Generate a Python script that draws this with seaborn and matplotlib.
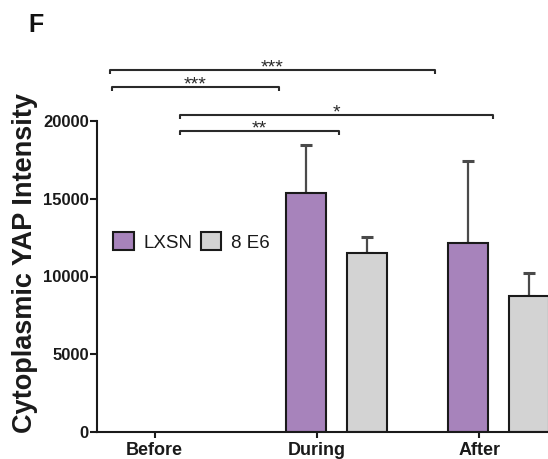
import numpy as np
import pandas as pd
import matplotlib
matplotlib.use("Agg")
import matplotlib.pyplot as plt
import seaborn as sns

# Mean cytoplasmic YAP intensity and upper SEM per phase and cell line
phases = ["Before", "During", "After"]
groups = ["LXSN", "8 E6"]
lxsn_mean = [np.nan, 15400, 12150]
lxsn_err = [np.nan, 3050, 5300]
e6_mean = [np.nan, 11500, 8750]
e6_err = [np.nan, 1050, 1480]
yticks = [0, 5000, 10000, 15000, 20000]

# Significance brackets: (x start, x end, height, label) in data units
brackets = [
    (-0.394, 1.606, 23280, "***"),
    (-0.382, 0.646, 22190, "***"),
    (0.037, 1.963, 20390, "*"),
    (0.037, 1.015, 19360, "**"),
]

purple = "#AA7AC4"
grey = "#D3D3D3"

sns.set_theme(style="white")
plt.rcParams["font.family"] = ["Liberation Sans", "DejaVu Sans"]

df = pd.DataFrame({
    "phase": phases * 2,
    "group": [groups[0]] * 3 + [groups[1]] * 3,
    "value": lxsn_mean + e6_mean,
    "err": lxsn_err + e6_err,
})

fig = plt.figure(figsize=(5.48, 4.59), dpi=100)
ax = fig.add_axes([97 / 548, 27 / 459, 451 / 548, 311 / 459])

sns.barplot(
    data=df, x="phase", y="value", hue="group",
    order=phases, hue_order=groups,
    palette=[purple, grey], width=0.75, gap=0.344,
    edgecolor="#1a1a1a", linewidth=1.5, errorbar=None,
    legend=True, ax=ax, zorder=2,
)

# One-sided error bars rising from the top of each drawn bar
bar_containers = list(ax.containers[:len(groups)])
for container, gname in zip(bar_containers, groups):
    sub = df[df["group"] == gname].set_index("phase").loc[phases].dropna()
    for rect, m, e in zip(container, sub["value"], sub["err"]):
        cx = rect.get_x() + rect.get_width() / 2
        ax.errorbar(cx, m, yerr=[[0], [e]], fmt="none", ecolor="#4a4a4a",
                    elinewidth=1.6, capsize=4, capthick=2.2, zorder=1)

ax.set_xlim(-0.474, 2.302)
ax.set_ylim(0, 20000)
ax.set_yticks(yticks)
ax.set_yticklabels([str(t) for t in yticks], fontsize=12, fontweight="bold",
                   color="#1a1a1a")
ax.set_xticks([i - 0.12 for i in range(len(phases))])
ax.set_xticklabels(phases, fontsize=13, fontweight="bold", color="#1a1a1a")
ax.tick_params(axis="y", direction="out", length=5, width=1.5, pad=1,
               left=True, color="#1a1a1a")
ax.tick_params(axis="x", direction="out", length=4, width=1.5, pad=3,
               bottom=True, color="#1a1a1a")
ax.set_xlabel("")
ax.set_ylabel("Cytoplasmic YAP Intensity", fontsize=19.5, fontweight="bold",
              color="#1a1a1a")
ax.yaxis.set_label_coords(-0.13, 0.545)

for side in ("top", "right"):
    ax.spines[side].set_visible(False)
for side in ("left", "bottom"):
    ax.spines[side].set_linewidth(1.5)
    ax.spines[side].set_color("#1a1a1a")
    ax.spines[side].set_zorder(3)

# Bracket lines with short downward ends and star labels
drop = 280
for x0, x1, h, lab in brackets:
    ax.plot([x0, x0, x1, x1], [h - drop, h, h, h - drop], color="#2a2a2a",
            lw=1.5, clip_on=False, solid_capstyle="butt")
    ax.annotate(lab, xy=((x0 + x1) / 2, h), xytext=(0, -2),
                textcoords="offset points", ha="center", va="baseline",
                fontsize=14, color="#2a2a2a", annotation_clip=False)

leg = ax.legend(
    loc="center left", bbox_to_anchor=(100 / 548, 1 - 242 / 459),
    bbox_transform=fig.transFigure, ncol=2, frameon=False,
    fontsize=13.5, handlelength=1.1, handleheight=1.1,
    handletextpad=0.5, columnspacing=0.45, borderpad=0.2,
)
for h in leg.legend_handles:
    h.set_edgecolor("#1a1a1a")
    h.set_linewidth(1.5)
for t in leg.get_texts():
    t.set_color("#1a1a1a")

fig.text(28 / 548, 1 - 13 / 459, "F", fontsize=18, fontweight="bold",
         ha="left", va="top", color="#111111")

fig.savefig("out.png", dpi=100)
